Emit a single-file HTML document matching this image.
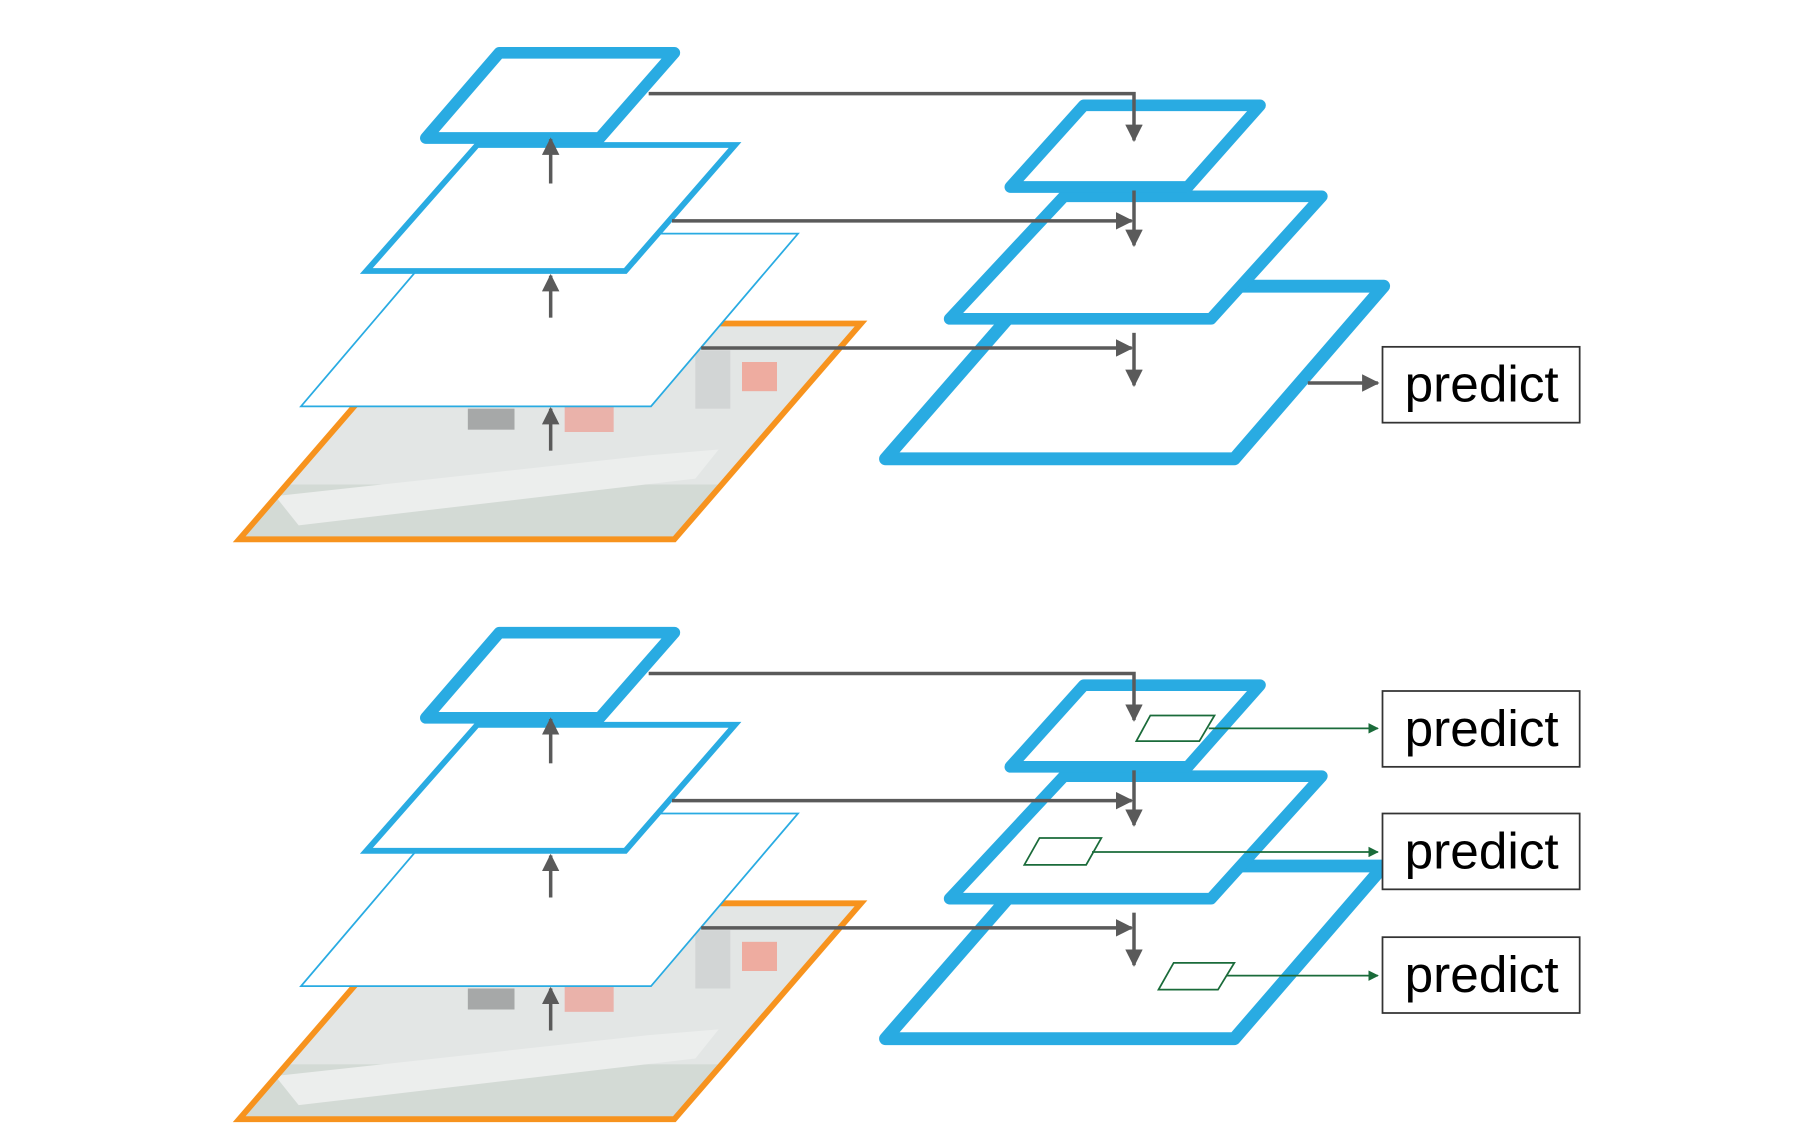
<!DOCTYPE html>
<html><head><meta charset="utf-8"><style>
html,body{margin:0;padding:0;background:#fff;width:1820px;height:1130px;overflow:hidden}
svg{display:block}
text{font-family:"Liberation Sans","DejaVu Sans",sans-serif}
</style></head><body>
<svg id="fig" width="1820" height="1130" viewBox="4 0 1560 968" xmlns="http://www.w3.org/2000/svg">
<defs>
<marker id="ag" viewBox="0 0 10 10" refX="9" refY="5" markerWidth="5" markerHeight="5" orient="auto"><path d="M0,0 L10,5 L0,10 z" fill="#5a5a5a"/></marker>
<marker id="agr" viewBox="0 0 10 10" refX="9" refY="5" markerWidth="6" markerHeight="6" orient="auto"><path d="M0,0 L10,5 L0,10 z" fill="#1a6b3a"/></marker>
<clipPath id="imgclip"><polygon points="369,277 742,277 582,462 209,462"/></clipPath>
<clipPath id="imgclip2"><polygon points="369,774 742,774 582,959 209,959"/></clipPath>
</defs>
</svg>
<script>
const NS='http://www.w3.org/2000/svg';
const svg=document.getElementById('fig');
function mk(tag,attrs,parent){const e=document.createElementNS(NS,tag);for(const k in attrs)e.setAttribute(k,attrs[k]);(parent||svg).appendChild(e);return e;}
function P(pts,dy){return pts.map(p=>p[0]+','+(p[1]+dy)).join(' ');}
const BLUE='#29abe2', GRAY='#5a5a5a';
function diagram(dy,idx,multi){
  const g=mk('g',{});
  
  
  const ig=mk('g',{'clip-path':'url(#imgclip'+(idx===0?'':'2')+')'},g);
  
  
  mk('rect',{x:200,y:270+dy,width:560,height:200,fill:'#e3e6e5'},ig);
  mk('rect',{x:200,y:415+dy,width:560,height:55,fill:'#d3dad5'},ig);
  mk('polygon',{points:P([[240,425],[560,390],[620,385],[600,410],[260,450]],dy),fill:'#eceeed'},ig);
  mk('rect',{x:405,y:350+dy,width:40,height:18,fill:'#a6a8a8'},ig);
  mk('rect',{x:488,y:348+dy,width:42,height:22,fill:'#eab2aa'},ig);
  mk('rect',{x:640,y:310+dy,width:30,height:25,fill:'#eeaca0'},ig);
  mk('rect',{x:600,y:300+dy,width:30,height:50,fill:'#d2d5d5'},ig);
  const im=mk('polygon',{points:P([[369,277],[742,277],[582,462],[209,462]],dy),fill:'none',stroke:'#f7931e','stroke-width':5},g);
  
  
  const l3=mk('polygon',{points:P([[388,200],[688,200],[562,348],[262,348]],dy),fill:'#fff',stroke:BLUE,'stroke-width':1.5},g);
  
  
  const l2=mk('polygon',{points:P([[413,124],[634,124],[540,232],[318,232]],dy),fill:'#fff',stroke:BLUE,'stroke-width':5},g);
  
  
  const l1=mk('polygon',{points:P([[432,45],[582,45],[518,118],[369,118]],dy),fill:'#fff',stroke:BLUE,'stroke-width':10,'stroke-linejoin':'round'},g);
  
  
  const r3=mk('polygon',{points:P([[892,245],[1190,245],[1062,393],[763,393]],dy),fill:'#fff',stroke:BLUE,'stroke-width':11,'stroke-linejoin':'round'},g);
  
  
  const r2=mk('polygon',{points:P([[916,168],[1137,168],[1042,273],[818,273]],dy),fill:'#fff',stroke:BLUE,'stroke-width':10,'stroke-linejoin':'round'},g);
  
  
  const r1=mk('polygon',{points:P([[933,90],[1084,90],[1022,160],[870,160]],dy),fill:'#fff',stroke:BLUE,'stroke-width':10,'stroke-linejoin':'round'},g);
  
  
  const lines=[
    [[560,80],[976,80],[976,120]],
    [[580,189],[974,189]],[[976,163],[976,210]],
    [[605,298],[974,298]],[[976,285],[976,330]],
    [[476,157],[476,119]],[[476,272],[476,236]],[[476,386],[476,350]]
  ];
  if(!multi) lines.push([[1125,328],[1185,328]]);
  lines.forEach(pts=>{
    const a=mk('polyline',{points:P(pts,dy),fill:'none',stroke:GRAY,'stroke-width':3,'marker-end':'url(#ag)'},g);
    
    
  });
  const boxes=multi?[[592,[[990,613],[1045,613],[1032,635],[978,635]],[1040,624]],[697,[[895,718],[948,718],[935,741],[882,741]],[940,730]],[803,[[1010,825],[1062,825],[1048,848],[997,848]],[1055,836]]]:[[297,null,null]];
  boxes.forEach(b=>{
    const y=b[0];
    const r=mk('rect',{x:1189,y:y,width:169,height:65,fill:'#fff',stroke:'#333','stroke-width':1.5},g);
    
    
    const t=mk('text',{x:1274,y:y+47,'text-anchor':'middle','font-size':44,fill:'#000'},g);
    t.textContent='predict';
    
    
    if(b[1]){
      const w=mk('polygon',{points:P(b[1],0),fill:'none',stroke:'#1a6b3a','stroke-width':1.5},g);
      
      
      const ar=mk('line',{x1:b[2][0],y1:b[2][1],x2:1185,y2:b[2][1],stroke:'#1a6b3a','stroke-width':1.5,'marker-end':'url(#agr)'},g);
      
      
    }
  });
}
diagram(0,0,false);
diagram(497,1,true);
</script>
</body></html>
